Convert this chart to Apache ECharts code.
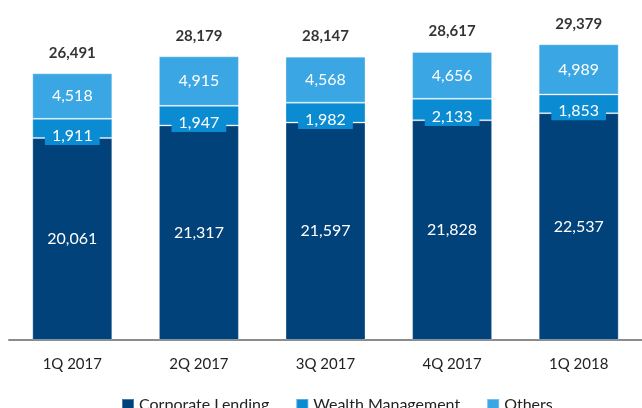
<!DOCTYPE html>
<html>
<head>
<meta charset="utf-8">
<script src="https://cdn.jsdelivr.net/npm/echarts@6/dist/echarts.min.js"></script>
<style>
  html, body { margin: 0; padding: 0; background: #fff; }
  #myChart { width: 642px; height: 408px; }
</style>
</head>
<body>
<div id="myChart"></div>
<script>
const quarters = ["1Q 2017", "2Q 2017", "3Q 2017", "4Q 2017", "1Q 2018"];
const corporateLending = [20061, 21317, 21597, 21828, 22537];
const wealthManagement = [1911, 1947, 1982, 2133, 1853];
const others = [4518, 4915, 4568, 4656, 4989];
const totals = [26491, 28179, 28147, 28617, 29379];

const chart = echarts.init(document.getElementById("myChart"));

const font = "Lato, 'Noto Sans', sans-serif";
const fmt = p => Number(p.value).toLocaleString("en-US");
const border = { borderColor: "rgba(255,255,255,0.3)", borderWidth: 1 };

const options = {
    animation: false,
    grid: { left: 9, width: 640, top: 38, bottom: 68 },
    legend: {
        data: ["Corporate Lending", "Wealth Management", "Others"],
        left: 116,
        top: 392,
        itemWidth: 12,
        itemHeight: 12,
        itemGap: 26,
        icon: "rect",
        textStyle: { fontFamily: font, fontSize: 16, color: "#222" }
    },
    xAxis: {
        type: "category",
        data: quarters,
        axisTick: { show: false },
        axisLine: { lineStyle: { color: "#8c8c8c", width: 2 } },
        axisLabel: { fontFamily: font, fontSize: 15, color: "#222", margin: 17 }
    },
    yAxis: { type: "value", min: 0, max: 30000, show: false, splitLine: { show: false } },
    series: [
        {
            name: "Corporate Lending",
            type: "bar",
            stack: "total",
            barWidth: 80,
            data: corporateLending,
            itemStyle: Object.assign({ color: "#02427a" }, border),
            label: { show: true, formatter: fmt, color: "#fff", fontFamily: font, fontSize: 16 }
        },
        {
            name: "Wealth Management",
            type: "bar",
            stack: "total",
            data: wealthManagement,
            itemStyle: Object.assign({ color: "#0a8bd2" }, border),
            label: {
                show: true, formatter: fmt, color: "#fff", fontFamily: font, fontSize: 16,
                backgroundColor: "#0a8bd2", padding: [1, 7, 2, 7], offset: [0, 7]
            }
        },
        {
            name: "Others",
            type: "bar",
            stack: "total",
            data: others,
            itemStyle: Object.assign({ color: "#3aa6e3" }, border),
            label: { show: true, formatter: fmt, color: "#fff", fontFamily: font, fontSize: 16 }
        },
        {
            name: "Total",
            type: "scatter",
            data: totals,
            symbolSize: 0,
            label: {
                show: true, position: "top", distance: 13, formatter: fmt,
                color: "#000", fontFamily: font, fontSize: 15, fontWeight: "bold"
            }
        }
    ]
};

chart.setOption(options);
</script>
</body>
</html>
